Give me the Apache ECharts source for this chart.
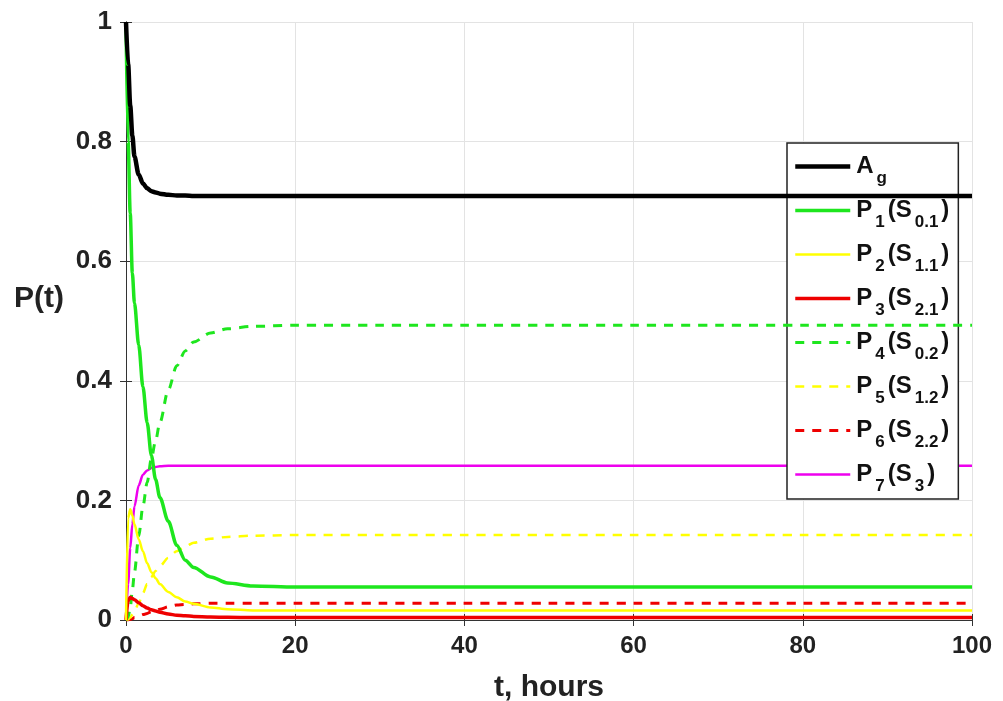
<!DOCTYPE html>
<html><head><meta charset="utf-8">
<script src="https://cdn.jsdelivr.net/npm/echarts@6/dist/echarts.min.js"></script>
<style>html,body{margin:0;padding:0;background:#fff}#c{width:1003px;height:701px}</style>
</head><body><div id="c"></div>
<script>
// time points (hours)
const T = [0, 0.25, 0.5, 0.75, 1, 1.5, 2, 2.5, 3, 3.5, 4, 5, 6, 7, 8, 10, 12, 15, 20, 30, 40, 50, 60, 70, 80, 90, 100];
const Ag = [1, 0.93, 0.86, 0.81, 0.775, 0.745, 0.73, 0.722, 0.717, 0.715, 0.713, 0.711, 0.71, 0.71, 0.709, 0.709, 0.709, 0.709, 0.709, 0.709, 0.709, 0.709, 0.709, 0.709, 0.709, 0.709, 0.709];
const P1 = [1, 0.80, 0.68, 0.58, 0.53, 0.46, 0.39, 0.33, 0.275, 0.235, 0.205, 0.165, 0.125, 0.10, 0.088, 0.072, 0.062, 0.057, 0.055, 0.055, 0.055, 0.055, 0.055, 0.055, 0.055, 0.055, 0.055];
const P2 = [0, 0.17, 0.185, 0.175, 0.16, 0.135, 0.115, 0.095, 0.08, 0.07, 0.06, 0.047, 0.038, 0.031, 0.027, 0.021, 0.018, 0.016, 0.016, 0.016, 0.016, 0.016, 0.016, 0.016, 0.016, 0.016, 0.016];
const P3 = [0, 0.032, 0.038, 0.036, 0.034, 0.029, 0.024, 0.02, 0.017, 0.015, 0.013, 0.01, 0.008, 0.007, 0.006, 0.005, 0.0045, 0.004, 0.004, 0.004, 0.004, 0.004, 0.004, 0.004, 0.004, 0.004, 0.004];
const P4 = [0, 0.005, 0.02, 0.05, 0.08, 0.14, 0.19, 0.23, 0.27, 0.30, 0.33, 0.385, 0.425, 0.45, 0.465, 0.48, 0.487, 0.491, 0.493, 0.493, 0.493, 0.493, 0.493, 0.493, 0.493, 0.493, 0.493];
const P5 = [0, 0.001, 0.004, 0.009, 0.015, 0.028, 0.045, 0.06, 0.072, 0.082, 0.09, 0.104, 0.115, 0.123, 0.129, 0.136, 0.139, 0.141, 0.142, 0.142, 0.142, 0.142, 0.142, 0.142, 0.142, 0.142, 0.142];
const P6 = [0, 0, 0.001, 0.002, 0.004, 0.006, 0.009, 0.011, 0.014, 0.016, 0.018, 0.022, 0.025, 0.026, 0.027, 0.028, 0.028, 0.028, 0.028, 0.028, 0.028, 0.028, 0.028, 0.028, 0.028, 0.028, 0.028];
const P7 = [0, 0.06, 0.12, 0.16, 0.19, 0.225, 0.243, 0.25, 0.254, 0.256, 0.257, 0.258, 0.258, 0.258, 0.258, 0.258, 0.258, 0.258, 0.258, 0.258, 0.258, 0.258, 0.258, 0.258, 0.258, 0.258, 0.258];
const names = ['A_g', 'P1(S0.1)', 'P2(S1.1)', 'P3(S2.1)', 'P4(S0.2)', 'P5(S1.2)', 'P6(S2.2)', 'P7(S3)'];
const legendRich = {
  'A_g': '{m|A}{s|g}',
  'P1(S0.1)': '{m|P}{s|1}{m|(S}{s|0.1}{m|)}',
  'P2(S1.1)': '{m|P}{s|2}{m|(S}{s|1.1}{m|)}',
  'P3(S2.1)': '{m|P}{s|3}{m|(S}{s|2.1}{m|)}',
  'P4(S0.2)': '{m|P}{s|4}{m|(S}{s|0.2}{m|)}',
  'P5(S1.2)': '{m|P}{s|5}{m|(S}{s|1.2}{m|)}',
  'P6(S2.2)': '{m|P}{s|6}{m|(S}{s|2.2}{m|)}',
  'P7(S3)': '{m|P}{s|7}{m|(S}{s|3}{m|)}'
};
const values = [Ag, P1, P2, P3, P4, P5, P6, P7];
const colors = ['#000000', '#1ee61e', '#ffff00', '#ee0000', '#1ee61e', '#ffff00', '#ee0000', '#ee00ee'];
const dashed = [false, false, false, false, true, true, true, false];
const widths = [4.5, 3.5, 2.5, 3.5, 3, 2.5, 3, 2.5];
const yLabelText = 'P(t)';

const FONT = '"Liberation Sans", Arial, sans-serif';
const series = names.map((n, i) => ({
  name: n, type: 'line', showSymbol: false, symbol: 'none',
  smooth: 0.3, smoothMonotone: 'x',
  data: T.map((t, k) => [t, values[i][k]]),
  lineStyle: { color: colors[i], width: widths[i], type: dashed[i] ? [9, 8] : 'solid' },
  itemStyle: { color: colors[i] },
  z: 10 - i
}));

const chart = echarts.init(document.getElementById('c'), null, { renderer: 'canvas' });
chart.setOption({
  animation: false,
  backgroundColor: '#fff',
  grid: { left: 126, right: 31, top: 22, bottom: 81, containLabel: false, outerBoundsMode: 'none' },
  graphic: [{
    type: 'text', left: 14, top: 284, z: 100,
    style: { text: yLabelText, font: 'bold 30px ' + FONT, fill: '#222' }
  }],
  xAxis: [{
    type: 'value', min: 0, max: 100, interval: 20,
    name: 't, hours', nameLocation: 'middle', nameGap: 53,
    nameTextStyle: { fontFamily: FONT, fontWeight: 'bold', fontSize: 30, color: '#222' },
    axisLine: { show: true, lineStyle: { color: '#333', width: 1 } },
    axisTick: { show: true, inside: true, length: 6, lineStyle: { color: '#333' } },
    axisLabel: { margin: 14, fontFamily: FONT, fontWeight: 'bold', fontSize: 24, color: '#222' },
    splitLine: { show: true, lineStyle: { color: '#e3e3e3', width: 1 } }
  }, {
    type: 'value', min: 0, max: 100, interval: 20, position: 'top',
    axisLine: { show: true, lineStyle: { color: '#333', width: 1 } },
    axisTick: { show: true, inside: true, length: 6, lineStyle: { color: '#333' } },
    axisLabel: { show: false }, splitLine: { show: false }
  }],
  yAxis: [{
    type: 'value', min: 0, max: 1, interval: 0.2,
    axisLine: { show: true, lineStyle: { color: '#333', width: 1 } },
    axisTick: { show: true, inside: true, length: 6, lineStyle: { color: '#333' } },
    axisLabel: { margin: 14, fontFamily: FONT, fontWeight: 'bold', fontSize: 26, color: '#222' },
    splitLine: { show: true, lineStyle: { color: '#e3e3e3', width: 1 } }
  }, {
    type: 'value', min: 0, max: 1, interval: 0.2, position: 'right',
    axisLine: { show: true, lineStyle: { color: '#333', width: 1 } },
    axisTick: { show: true, inside: true, length: 6, lineStyle: { color: '#333' } },
    axisLabel: { show: false }, splitLine: { show: false }
  }],
  legend: {
    orient: 'vertical', left: 787, top: 143,
    backgroundColor: '#fff', borderColor: '#222', borderWidth: 1.5,
    padding: [3, 8, 4, 6], itemGap: 3, itemWidth: 55, itemHeight: 14,
    itemStyle: { opacity: 0 },
    lineStyle: { width: 'inherit' },
    data: names,
    formatter: n => legendRich[n],
    textStyle: {
      color: '#111',
      rich: {
        m: { fontFamily: FONT, fontWeight: 'bold', fontSize: 24, lineHeight: 26, padding: [0, 1, 0, 1], color: '#111' },
        s: { fontFamily: FONT, fontWeight: 'bold', fontSize: 17, lineHeight: 8, padding: [24, 2, 0, 2], color: '#111' }
      }
    }
  },
  series: series
});
</script></body></html>
